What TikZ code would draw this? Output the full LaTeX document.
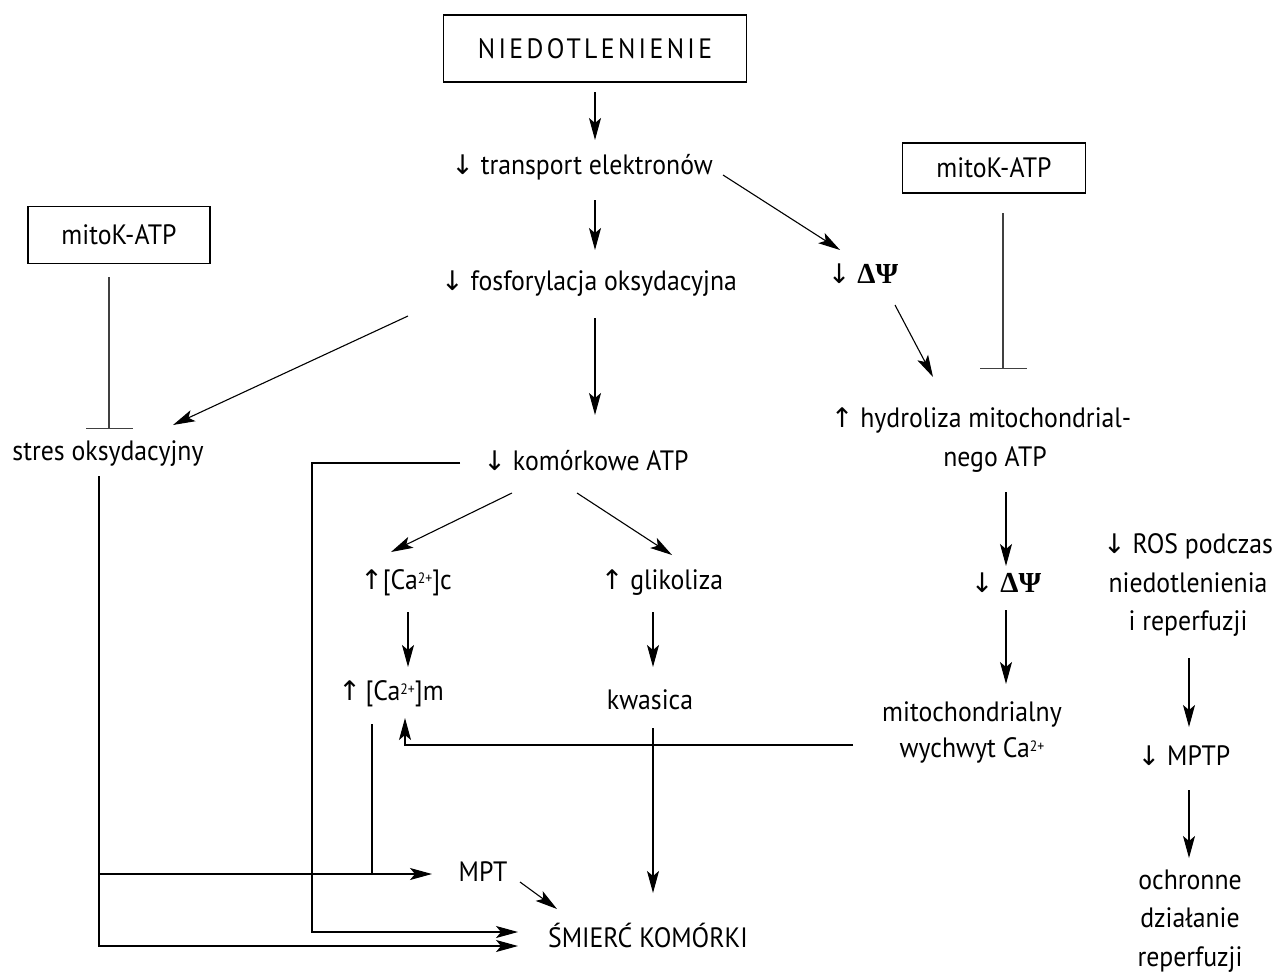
\documentclass[tikz,border=0pt]{standalone}
\usepackage{fontspec}
\setmainfont[FakeStretch=0.92]{PT Sans}
\newfontfamily\arrf{DejaVu Sans}
\newfontfamily\grkf{Liberation Serif}
\newfontfamily\spacedf[LetterSpace=12,FakeStretch=0.92]{PT Sans}
\usetikzlibrary{arrows.meta,calc}
\newcommand{\mydn}{{\arrf\fontsize{27pt}{27pt}\selectfont ↓}}
\newcommand{\myup}{{\arrf\fontsize{27pt}{27pt}\selectfont ↑}}
\newcommand{\mypsi}{{\grkf\bfseries\fontsize{29pt}{29pt}\selectfont ΔΨ}}
\newcommand{\mysup}[1]{\raisebox{6pt}{\fontsize{15pt}{15pt}\selectfont #1}}
\tikzset{
  txt/.style={inner sep=0pt, text height=20pt, text depth=6pt},
  ml/.style={inner sep=0pt, align=center},
  boxn/.style={draw, line width=1.1pt, inner sep=0pt},
  arr/.style={-{Stealth[length=22pt,width=12pt,inset=5pt]}, line width=1.1pt},
  ln/.style={line width=1.1pt},
  inh/.style={-{Bar[width=47pt]}, line width=1.1pt, draw=black!75}
}
\begin{document}
\begin{tikzpicture}[x=1pt,y=-1pt,font=\fontsize{28pt}{38.5pt}\selectfont]
\useasboundingbox (0,0) rectangle (1282,972);
% nodes
\node[boxn, minimum width=303pt, minimum height=67pt] (nied) at (595,48.5) {\spacedf NIEDOTLENIENIE};
\node[boxn, minimum width=183pt, minimum height=50pt] (mkR) at (994,168) {mitoK-ATP};
\node[boxn, minimum width=182pt, minimum height=57pt] (mkL) at (119,235) {mitoK-ATP};
\node[txt] (tr) at (582,167) {\mydn\ transport elektronów};
\node[txt] (fos) at (589,283) {\mydn\ fosforylacja oksydacyjna};
\node[txt] (dp1) at (863,276) {\mydn\ \mypsi};
\node[ml] (hyd) at (981,440) {\myup\ hydroliza mitochondrial-\\\hspace*{28pt}nego ATP};
\node[txt] (str) at (108,453) {stres oksydacyjny};
\node[txt] (kat) at (586,463) {\mydn\ komórkowe ATP};
\node[txt] (cac) at (406,582) {\myup[Ca\mysup{2+}]c};
\node[txt] (gli) at (662,582) {\myup\ glikoliza};
\node[txt] (cam) at (391,693) {\myup\,[Ca\mysup{2+}]m};
\node[txt] (kwa) at (650,702) {kwasica};
\node[txt] (dp2) at (1006,585) {\mydn\ \mypsi};
\node[ml, execute at begin node=\setlength{\baselineskip}{36pt}] (wych) at (972,732) {mitochondrialny\\wychwyt Ca\mysup{2+}};
\node[ml] (ros) at (1188,585) {\mydn\ ROS podczas\\niedotlenienia\\i reperfuzji};
\node[txt] (mptp) at (1184,758) {\mydn\ MPTP};
\node[ml] (ochr) at (1190,921) {ochronne\\działanie\\reperfuzji};
\node[txt] (mpt) at (483,874) {MPT};
\node[txt] (smi) at (648,940) {ŚMIERĆ KOMÓRKI};
% connectors
\draw[arr] ([yshift=-43.5pt]nied.center) -- ([xshift=13pt,yshift=27pt]tr.center);
\draw[arr] ([xshift=13pt,yshift=-33pt]tr.center) -- ([xshift=6pt,yshift=33pt]fos.center);
\draw[arr] ([xshift=141pt,yshift=-8pt]tr.center) -- ([xshift=-23pt,yshift=26pt]dp1.center);
\draw[arr] ([xshift=-181pt,yshift=-33pt]fos.center) -- ([xshift=65pt,yshift=28pt]str.center);
\draw[arr] ([xshift=6pt,yshift=-35pt]fos.center) -- ([xshift=9pt,yshift=48pt]kat.center);
\draw[arr] ([xshift=32pt,yshift=-29pt]dp1.center) -- ([xshift=-48pt,yshift=63pt]hyd.center);
\draw[inh] ([xshift=9pt,yshift=-45pt]mkR.center) -- ([xshift=22pt,yshift=71pt]hyd.center);
\draw[inh] ([xshift=-10pt,yshift=-42pt]mkL.center) -- ([xshift=1pt,yshift=24pt]str.center);
\draw[arr] ([xshift=-74pt,yshift=-30pt]kat.center) -- ([xshift=-15pt,yshift=30pt]cac.center);
\draw[arr] ([xshift=-9pt,yshift=-30pt]kat.center) -- ([xshift=10pt,yshift=27pt]gli.center);
\draw[arr] ([xshift=2pt,yshift=-30pt]cac.center) -- ([xshift=17pt,yshift=26pt]cam.center);
\draw[arr] ([xshift=-9pt,yshift=-30pt]gli.center) -- ([xshift=3pt,yshift=35pt]kwa.center);
\draw[arr] ([xshift=25pt,yshift=-52pt]hyd.center) -- ([yshift=19pt]dp2.center);
\draw[arr] ([yshift=-25pt]dp2.center) -- ([xshift=34pt,yshift=48pt]wych.center);
\draw[arr] ([xshift=1pt,yshift=-73pt]ros.center) -- ([xshift=5pt,yshift=31pt]mptp.center);
\draw[arr] ([xshift=5pt,yshift=-32pt]mptp.center) -- ([xshift=-1pt,yshift=63pt]ochr.center);
\draw[arr] ([xshift=3pt,yshift=-26pt]kwa.center) -- ([xshift=5pt,yshift=47pt]smi.center);
\draw[arr] ([xshift=37pt,yshift=-8pt]mpt.center) -- ([xshift=-91pt,yshift=31pt]smi.center);
\draw[arr] ([xshift=-9pt,yshift=-23pt]str.center) |- ([xshift=-51pt]mpt.center);
\draw[arr] ([xshift=-9pt,yshift=-23pt]str.center) |- ([xshift=-130pt,yshift=-6pt]smi.center);
\draw[arr] ([xshift=-126pt]kat.center) -- ++(-148,0) |- ([xshift=-130pt,yshift=8pt]smi.center);
\draw[ln] ([xshift=-19pt,yshift=-31pt]cam.center) -- ([xshift=-19pt]cam.center |- mpt.center);
\draw[arr] ([xshift=-119pt,yshift=-13pt]wych.center) -| ([xshift=14pt,yshift=-25pt]cam.center);
\end{tikzpicture}
\end{document}
